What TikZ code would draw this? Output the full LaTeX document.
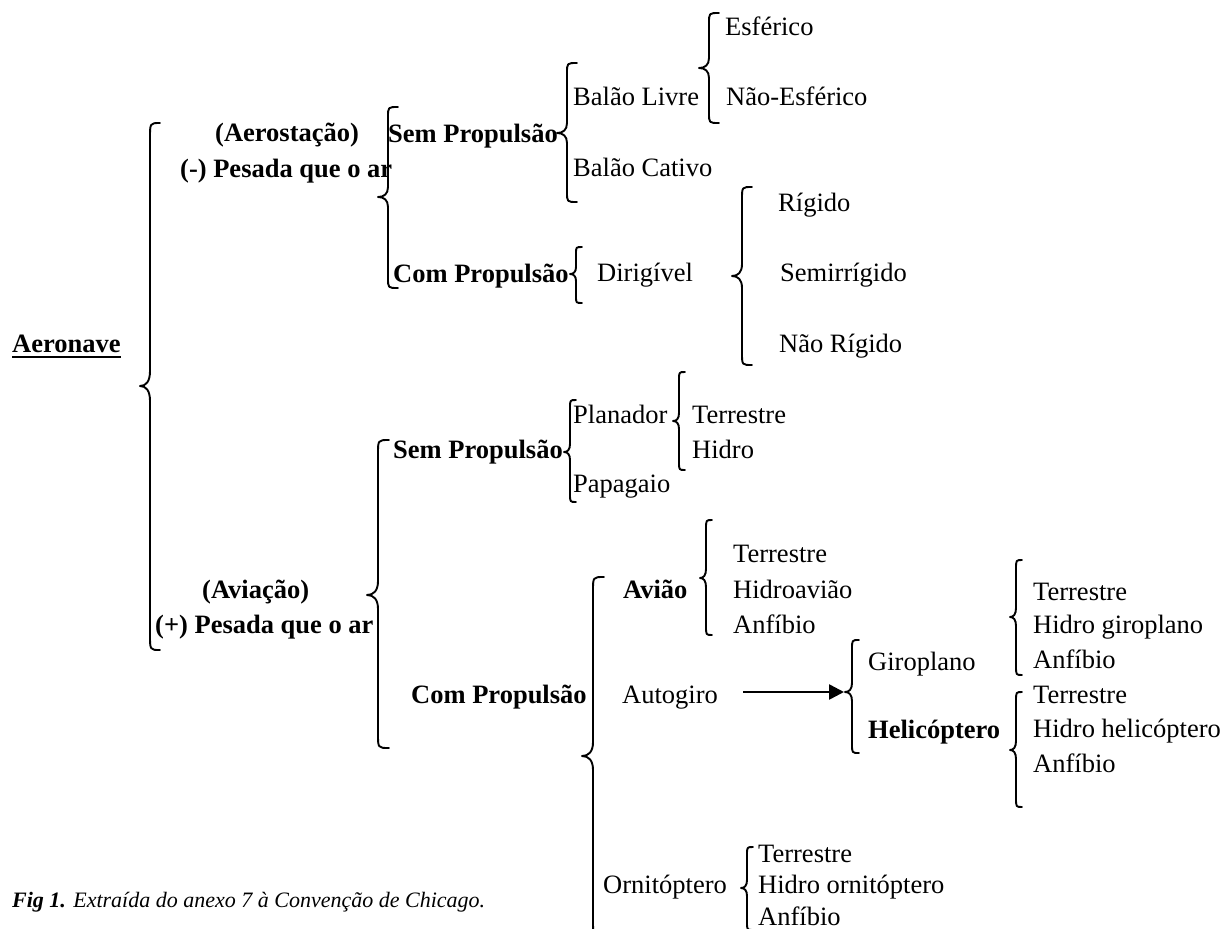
\documentclass[tikz,border=0pt]{standalone}
\usepackage{fontspec}
\setmainfont{Liberation Serif}
\usetikzlibrary{arrows.meta}
\newcommand\wbrace[6]{% xv yt ym yb w r
  \draw[brc] ({#1+#5},#2) .. controls (#1,#2) .. (#1,{#2+#6}) -- (#1,{#3-#6})
    .. controls (#1,{#3-0.3*#6}) and ({#1-0.4*#5},#3) .. ({#1-#5},#3)
    .. controls ({#1-0.4*#5},#3) and (#1,{#3+0.3*#6}) .. (#1,{#3+#6})
    -- (#1,{#4-#6}) .. controls (#1,#4) .. ({#1+#5},#4);}
\tikzset{
  brc/.style={line width=1.9pt, line cap=round, line join=round},
  txt/.style={anchor=base west, inner sep=0pt, font=\fontsize{26.5}{30}\selectfont},
  btxt/.style={txt, font=\fontsize{26.5}{30}\selectfont\bfseries},
  arr/.style={line width=2.5pt, -{Triangle[length=15pt,width=15pt]}},
}
\begin{document}
\begin{tikzpicture}[x=1pt,y=-1pt]
\useasboundingbox (0,0) rectangle (1229,929);
% braces
\wbrace{150}{123}{386}{650}{10}{15}
\wbrace{388}{107}{197}{288}{10}{10}
\wbrace{567}{63}{133}{202}{10}{10}
\wbrace{709}{13}{68}{123}{10}{10}
\wbrace{576}{247}{274}{303}{6}{7}
\wbrace{742}{187}{276}{365}{10}{12}
\wbrace{378}{440}{595}{748}{11}{14}
\wbrace{570}{400}{452}{502}{6}{8}
\wbrace{679}{372}{421}{470}{6}{8}
\wbrace{593}{577}{756}{935}{11}{14}
\wbrace{706}{520}{578}{635}{6}{9}
\wbrace{852}{640}{692}{753}{7}{9}
\wbrace{1016}{560}{617}{675}{6}{9}
\wbrace{1016}{692}{750}{807}{6}{9}
\wbrace{747}{847}{888}{930}{6}{8}
% bold labels
\node[btxt] (aerostacao) at (215,141) {(Aerostação)};
\node[btxt] (pesadamenos) at (180,177) {(-) Pesada que o ar};
\node[btxt] (semprop1) at (388,142) {Sem Propulsão};
\node[btxt] (comprop1) at (393,282) {Com Propulsão};
\node[btxt] (aeronave) at (12,352) {Aeronave};
\draw[line width=2.2pt] ([yshift=-5pt]aeronave.base west) -- ([yshift=-5pt]aeronave.base east);
\node[btxt] (semprop2) at (393,458) {Sem Propulsão};
\node[btxt] (aviacao) at (202,598) {(Aviação)};
\node[btxt] (pesadamais) at (155,633) {(+) Pesada que o ar};
\node[btxt] (comprop2) at (411,703) {Com Propulsão};
\node[btxt] (aviao) at (623,598) {Avião};
\node[btxt] (helicoptero) at (868,738) {Helicóptero};
% regular labels
\node[txt] (esferico) at (725,35) {Esférico};
\node[txt] (balaolivre) at (573,105) {Balão Livre};
\node[txt] (naoesferico) at (726,105) {Não-Esférico};
\node[txt] (balaocativo) at (573,176) {Balão Cativo};
\node[txt] (rigido) at (778,211) {Rígido};
\node[txt] (dirigivel) at (597,281) {Dirigível};
\node[txt] (semirrigido) at (780,281) {Semirrígido};
\node[txt] (naorigido) at (779,352) {Não Rígido};
\node[txt] (planador) at (573,423) {Planador};
\node[txt] (terrpl) at (692,423) {Terrestre};
\node[txt] (hidropl) at (692,458) {Hidro};
\node[txt] (papagaio) at (573,492) {Papagaio};
\node[txt] (terrav) at (733,562) {Terrestre};
\node[txt] (hidroaviao) at (733,598) {Hidroavião};
\node[txt] (anfav) at (733,633) {Anfíbio};
\node[txt] (autogiro) at (622,703) {Autogiro};
\node[txt] (giroplano) at (868,670) {Giroplano};
\node[txt] (terrgi) at (1033,600) {Terrestre};
\node[txt] (hidrogi) at (1033,633) {Hidro giroplano};
\node[txt] (anfgi) at (1033,668) {Anfíbio};
\node[txt] (terrhe) at (1033,703) {Terrestre};
\node[txt] (hidrohe) at (1033,737) {Hidro helicóptero};
\node[txt] (anfhe) at (1033,772) {Anfíbio};
\node[txt] (ornitoptero) at (603,893) {Ornitóptero};
\node[txt] (terror) at (758,862) {Terrestre};
\node[txt] (hidroor) at (758,893) {Hidro ornitóptero};
\node[txt] (anfor) at (758,925) {Anfíbio};
% arrow
\coordinate (arrstart) at (743,692);
\coordinate (b12tip) at (844,692);
\draw[arr] (arrstart) -- (b12tip);
% caption
\node[anchor=base west, inner sep=0pt, font=\fontsize{22}{26}\selectfont] (caption) at (12,907)
  {\textbf{\textit{Fig 1.}} \textit{Extraída do anexo 7 à Convenção de Chicago.}};
\end{tikzpicture}
\end{document}
